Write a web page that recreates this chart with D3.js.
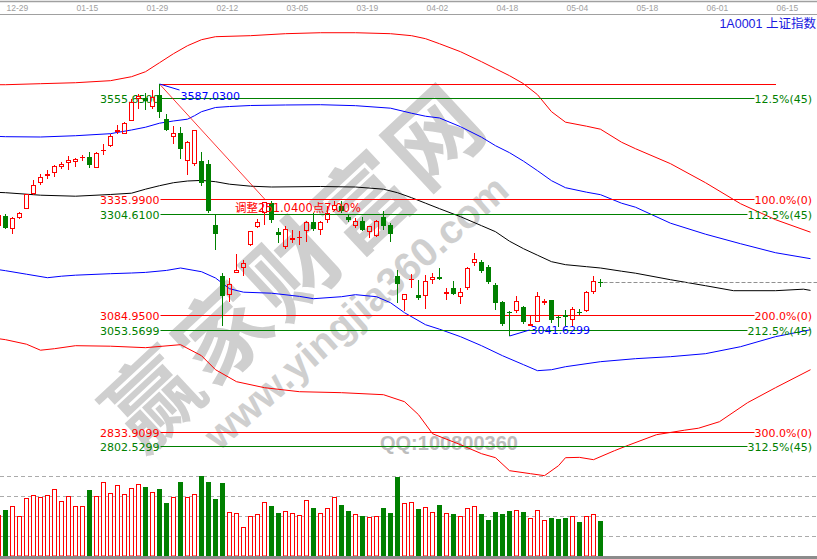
<!DOCTYPE html>
<html><head><meta charset="utf-8">
<script src="https://cdn.jsdelivr.net/npm/d3@7"></script>
<style>body{margin:0;background:#fff;overflow:hidden}svg{display:block}</style>
</head><body>
<svg id="chart" width="817" height="559"></svg>
<script>
// ---------- DATA ----------
const firstBar = -1; // index of first (partially visible) candle
const openP  = [3278.9,3302.0,3273.2,3297.0,3316.5,3349.0,3372.8,3387.1,3394.4,3406.5,3416.1,3418.2,3426.9,3429.1,3405.2,3442.0,3452.9,3482.3,3478.8,3507.0,3555.2,3556.7,3537.3,3563.9,3511.9,3472.3,3480.1,3421.0,3413.9,3419.5,3414.6,3282.5,3172.2,3131.1,3178.0,3188.8,3237.7,3277.6,3307.9,3329.5,3265.9,3234.3,3249.4,3252.9,3268.9,3289.0,3271.7,3293.4,3315.0,3323.7,3299.2,3278.9,3291.2,3265.9,3257.2,3299.2,3281.9,3172.2,3119.6,3164.2,3131.1,3128.9,3162.9,3170.0,3133.2,3145.6,3126.1,3144.7,3199.7,3202.5,3191.7,3152.7,3114.4,3093.6,3094.9,3104.4,3064.0,3072.6,3113.1,3120.2,3081.9,3086.3,3077.0,3092.8,3094.9,3136.0,3158.5];
const highP  = [3308.5,3305.7,3299.2,3309.2,3349.6,3379.9,3392.9,3401.6,3412.4,3418.2,3431.2,3426.9,3433.4,3440.5,3439.4,3457.2,3479.5,3498.3,3505.4,3555.2,3565.4,3567.6,3574.7,3587.03,3522.8,3495.3,3494.6,3464.3,3488.1,3439.0,3423.2,3305.7,3178.0,3167.2,3219.8,3206.8,3268.5,3295.5,3332.3,3333.0,3275.4,3280.4,3270.2,3268.0,3291.2,3307.9,3290.1,3322.1,3334.5,3333.0,3304.2,3297.0,3299.2,3280.4,3293.4,3312.9,3286.2,3185.2,3133.2,3175.9,3163.5,3174.3,3178.0,3188.8,3145.6,3159.8,3145.6,3190.1,3221.3,3205.3,3196.0,3156.4,3116.6,3094.9,3127.4,3105.7,3084.1,3136.0,3121.7,3120.2,3084.1,3098.6,3104.4,3100.1,3138.2,3170.7,3165.0];
const lowP   = [3276.0,3273.2,3263.1,3294.9,3316.1,3347.5,3368.5,3381.4,3384.9,3403.1,3400.1,3407.4,3420.4,3405.2,3404.8,3433.4,3451.3,3478.8,3478.4,3506.5,3532.9,3529.9,3532.9,3513.5,3484.5,3457.2,3424.7,3389.2,3410.2,3365.4,3307.9,3228.4,3062.5,3114.4,3177.6,3172.2,3235.6,3275.4,3282.5,3286.2,3242.9,3230.0,3242.9,3239.3,3245.1,3268.0,3260.3,3286.2,3312.9,3307.9,3287.5,3274.5,3268.0,3253.8,3255.9,3271.7,3244.2,3113.1,3096.4,3145.6,3118.7,3100.1,3154.2,3162.0,3118.7,3130.4,3110.9,3141.9,3192.3,3178.0,3154.9,3097.1,3064.0,3041.63,3091.5,3068.3,3064.0,3071.1,3109.4,3069.8,3061.2,3064.0,3064.0,3087.8,3092.8,3133.2,3147.7];
const closeP = [3304.2,3275.4,3297.0,3307.9,3349.0,3368.5,3385.8,3392.3,3409.6,3413.9,3422.6,3424.7,3429.1,3411.7,3437.7,3444.2,3474.5,3487.5,3502.6,3548.7,3561.1,3549.4,3558.9,3525.6,3488.1,3481.0,3447.0,3462.2,3487.5,3372.8,3311.3,3263.1,3128.9,3154.2,3184.5,3199.7,3268.0,3288.4,3330.8,3293.4,3260.3,3273.2,3253.8,3255.9,3289.0,3273.2,3289.0,3307.9,3325.8,3311.3,3291.8,3291.2,3270.2,3280.4,3291.2,3280.4,3263.1,3154.2,3133.2,3165.7,3123.0,3160.7,3169.4,3165.0,3137.5,3131.7,3136.9,3188.8,3208.3,3181.5,3159.2,3113.1,3066.8,3092.1,3118.1,3071.1,3066.8,3127.4,3118.1,3077.0,3080.6,3082.8,3099.2,3091.5,3136.9,3160.7,3157.0];
const volume = [205,230,248,198,288,303,293,303,333,273,298,248,248,330,298,368,313,353,308,338,358,345,318,335,265,293,370,293,308,400,370,285,365,218,213,143,198,208,268,250,213,225,213,203,278,240,213,238,293,255,225,208,200,193,198,240,215,395,263,268,235,243,218,255,213,208,198,238,248,208,180,220,210,225,230,220,188,230,180,190,185,190,198,170,198,208,175];

// Bollinger-style envelopes (bar index -> value)
const upperRedIdx = [-1,0,5,10,15,18,20,22,24,26,28,30,35,40,45,50,55,58,60,62,65,68,70,72,74,76,78,80,83,85,88,90,95,100,105,110,115];
const upperRedVal = [3585.5,3585.5,3587.7,3589.8,3594.2,3602.8,3613.6,3633.1,3652.6,3669.9,3682.9,3689.4,3691.6,3695.9,3698.0,3698.0,3695.9,3691.6,3685.1,3674.2,3656.9,3635.3,3620.1,3605.0,3587.7,3563.9,3527.1,3504.4,3495.7,3489.2,3461.1,3447.0,3414.6,3373.4,3328.0,3293.4,3266.3];
const upperBlueIdx = [-1,0,5,10,15,16,18,20,22,24,26,27,28,30,32,35,40,45,50,55,58,60,62,65,68,70,72,74,76,78,80,83,85,88,90,95,100,105,110,115];
const upperBlueVal = [3473.6,3473.0,3472.3,3475.1,3479.5,3482.3,3487.5,3493.5,3502.2,3507.0,3510.9,3518.4,3527.1,3536.2,3538.3,3540.5,3541.6,3542.2,3540.1,3534.7,3523.8,3517.3,3513.5,3494.6,3471.9,3453.5,3438.4,3420.0,3399.4,3377.8,3362.6,3352.9,3347.5,3329.1,3320.4,3285.8,3262.0,3241.4,3221.9,3209.0];
const midIdx = [-1,0,5,10,15,18,20,22,24,26,28,30,32,35,38,45,50,54,56,58,60,62,65,68,70,72,74,76,78,80,83,85,88,90,95,100,104,110,114,115];
const midVal = [3352.4,3351.8,3346.4,3344.2,3347.9,3350.7,3359.4,3366.9,3373.4,3377.1,3378.4,3375.6,3370.2,3365.9,3364.1,3365.2,3364.1,3359.4,3351.8,3341.0,3329.1,3317.2,3299.9,3280.4,3267.4,3246.8,3230.6,3216.5,3202.5,3196.0,3191.7,3188.8,3181.9,3177.6,3163.5,3150.5,3139.7,3139.7,3143.0,3140.4];
const lowerBlueIdx = [-1,0,3,6,8,10,15,18,20,23,25,28,30,32,34,38,42,44,48,50,53,55,57,60,62,65,68,71,74,76,78,80,85,90,95,100,105,110,115];
const lowerBlueVal = [3185.2,3183.0,3175.4,3167.8,3171.1,3173.3,3176.5,3178.0,3179.3,3183.6,3188.8,3180.8,3167.2,3144.0,3136.5,3134.3,3127.4,3122.4,3126.7,3131.1,3126.7,3113.7,3092.1,3066.1,3056.4,3040.2,3020.7,2999.0,2979.6,2966.6,2968.7,2975.2,2986.1,2992.6,2996.9,3003.4,3018.5,3040.2,3055.3];
const lowerRedIdx = [-1,0,3,5,7,10,15,20,25,28,30,33,37,42,48,54,57,59,61,65,68,70,72,75,77,79,80,82,84,87,89,93,97,99,102,106,110,115];
const lowerRedVal = [3035.8,3033.7,3023.9,3010.9,3014.2,3020.7,3019.6,3016.4,3022.9,2999.0,2968.7,2942.8,2929.8,2921.1,2919.0,2914.6,2899.5,2871.4,2830.2,2806.4,2787.0,2778.3,2750.2,2743.7,2739.4,2761.0,2778.3,2779.0,2774.0,2793.5,2805.4,2828.1,2837.8,2842.1,2856.2,2897.3,2929.8,2968.7];

// Fibonacci-style level lines
const redLevels   = [3335.99, 3084.95, 2833.9099];
const redLabels   = ["3335.9900","3084.9500","2833.9099"];
const redPct      = ["100.0%(0)","200.0%(0)","300.0%(0)"];
const greenLevels = [3555.65, 3304.61, 3053.5699, 2802.5299];
const greenLabels = ["3555.6500","3304.6100","3053.5699","2802.5299"];
const greenPct    = ["12.5%(45)","112.5%(45)","212.5%(45)","312.5%(45)"];
const highValue = 3587.03, highBar = 22, lowValue = 3041.6299, lowBar = 72;
const dateLabels = ["12-29","01-15","01-29","02-12","03-05","03-19","04-02","04-18","05-04","05-18","06-01","06-15"];
const dateBars   = [0,10,20,30,40,50,60,70,80,90,100,110];
const volTicks = [100,200,300,400];

// ---------- SCALES ----------
const svg = d3.select("#chart");
const W = 817;
const x = d3.scaleLinear().domain([0,1]).range([5.5,12.5]);
const y = d3.scaleLinear().domain([2833.9099, 3587.03]).range([432, 84]);
const yv = d3.scaleLinear().domain([0,400]).range([556,476]);
const RED = "#ff0000", GREEN = "#008000", BLUE = "#0000ff";
const crisp = v => Math.floor(v) + 0.5;

// ---------- WATERMARK ----------
const wm = svg.append("g").attr("fill","#cfcfcf").attr("font-weight","bold");
wm.append("text").attr("transform","translate(290,262) rotate(-43)")
  .attr("text-anchor","middle").attr("dominant-baseline","central")
  .attr("font-family","'Noto Sans CJK SC'").attr("font-size",92).attr("letter-spacing",4)
  .text("赢家财富网");
wm.append("text").attr("transform","translate(356,312) rotate(-41.5)")
  .attr("text-anchor","middle").attr("dominant-baseline","central")
  .attr("font-family","'Liberation Sans', Arial").attr("font-size",40)
  .text("www.yingjia360.com");
svg.append("text").attr("x",380).attr("y",450).attr("fill","#bdbdbd").attr("font-weight","bold")
  .attr("font-family","'Liberation Sans', Arial").attr("font-size",20).text("QQ:100800360");

// ---------- TOP AXIS ----------
svg.append("line").attr("x1",0).attr("x2",W).attr("y1",1.5).attr("y2",1.5).attr("stroke","#a0a0a0").attr("stroke-width",1.5);
svg.append("line").attr("x1",0).attr("x2",W).attr("y1",14.5).attr("y2",14.5).attr("stroke","#a0a0a0");
svg.append("g").selectAll("text").data(dateLabels).join("text")
  .attr("x",(d,i)=>x(dateBars[i])+1).attr("y",11)
  .attr("fill","#a0a0a0").attr("font-family","'Liberation Sans', Arial").attr("font-size",8.5)
  .text(d=>d);
const title = svg.append("text").attr("x",816).attr("y",27.5).attr("text-anchor","end")
  .attr("fill","#1818e0").attr("font-size",12.5);
title.append("tspan").attr("font-family","'Liberation Sans', Arial").text("1A0001  ");
title.append("tspan").attr("font-family","'Noto Sans CJK SC'").text("上证指数");

// ---------- BANDS ----------
function band(idx, val, color){
  const pts = idx.map((k,i)=>[x(k), y(val[i])]);
  svg.append("path").attr("d", d3.line()(pts)).attr("fill","none").attr("stroke",color).attr("stroke-width",1);
}
band(upperRedIdx, upperRedVal, RED);
band(upperBlueIdx, upperBlueVal, BLUE);
band(midIdx, midVal, "#000");
band(lowerBlueIdx, lowerBlueVal, BLUE);
band(lowerRedIdx, lowerRedVal, RED);

// ---------- LEVEL LINES ----------
const lineStart = x(highBar) + 1;
const fontNum = "'DejaVu Sans', Verdana, sans-serif";
svg.append("line").attr("x1",lineStart).attr("x2",776).attr("y1",crisp(y(highValue))).attr("y2",crisp(y(highValue))).attr("stroke",RED);
function level(v, lab, pct, color){
  const yy = crisp(y(v));
  const t = svg.append("text").attr("x",812).attr("y",yy+4).attr("text-anchor","end")
    .attr("fill",color).attr("font-family",fontNum).attr("font-size",11).text(pct);
  const tw = t.node().getComputedTextLength();
  svg.append("line").attr("x1",lineStart).attr("x2",812-tw).attr("y1",yy).attr("y2",yy).attr("stroke",color);
  svg.append("text").attr("x",lineStart-1).attr("y",yy+4).attr("text-anchor","end")
    .attr("fill",color).attr("font-family",fontNum).attr("font-size",11).text(lab);
}
redLevels.forEach((v,i)=>level(v, redLabels[i], redPct[i], RED));
greenLevels.forEach((v,i)=>level(v, greenLabels[i], greenPct[i], GREEN));

// diagonal measuring line and marks
const yHigh = y(highValue), yLow = y(lowValue);
svg.append("line").attr("x1",x(highBar)).attr("y1",yHigh).attr("x2",x(37)+1).attr("y2",y(redLevels[0]))
  .attr("stroke",RED).attr("stroke-width",0.8);
svg.append("line").attr("x1",x(highBar)).attr("y1",yHigh).attr("x2",x(highBar)+20).attr("y2",yHigh+6).attr("stroke",BLUE);
svg.append("text").attr("x",x(highBar)+21).attr("y",yHigh+16).attr("fill",BLUE).attr("font-family",fontNum).attr("font-size",11).text(highValue.toFixed(4));
svg.append("line").attr("x1",x(lowBar)).attr("y1",yLow).attr("x2",x(lowBar)+20).attr("y2",yLow-6).attr("stroke",BLUE);
svg.append("text").attr("x",x(lowBar)+21).attr("y",yLow-2).attr("fill",BLUE).attr("font-family",fontNum).attr("font-size",11).text(lowValue.toFixed(4));

// last close dashed extension
const lastC = closeP[closeP.length-1];
svg.append("line").attr("x1",x(firstBar+closeP.length-1)+3).attr("x2",W).attr("y1",crisp(y(lastC))).attr("y2",crisp(y(lastC)))
  .attr("stroke","#909090").attr("stroke-dasharray","4,2");

// ---------- CANDLES ----------
const cg = svg.append("g");
openP.forEach((o,i)=>{
  const k = firstBar + i, cx = x(k);
  const h = highP[i], l = lowP[i], c = closeP[i];
  const up = c >= o;
  const col = up ? RED : GREEN;
  const top = Math.round(y(Math.max(o,c))), bot = Math.round(y(Math.min(o,c)));
  const yh = Math.round(y(h)), yl = Math.round(y(l));
  if (up) {
    if (yh < top) cg.append("line").attr("x1",cx).attr("x2",cx).attr("y1",yh).attr("y2",top).attr("stroke",col);
    if (yl > bot) cg.append("line").attr("x1",cx).attr("x2",cx).attr("y1",bot).attr("y2",yl).attr("stroke",col);
    if (bot - top >= 2) {
      cg.append("rect").attr("x",cx-2).attr("y",top+0.5).attr("width",4).attr("height",bot-top-1)
        .attr("fill","none").attr("stroke",col);
    } else {
      cg.append("line").attr("x1",cx-2.5).attr("x2",cx+2.5).attr("y1",top+0.5).attr("y2",top+0.5).attr("stroke",col);
    }
  } else {
    cg.append("line").attr("x1",cx).attr("x2",cx).attr("y1",yh).attr("y2",yl).attr("stroke",col);
    cg.append("rect").attr("x",cx-2.5).attr("y",top).attr("width",5).attr("height",Math.max(bot-top,1)).attr("fill",col);
  }
});

// annotation text
svg.append("text").attr("x",235).attr("y",212).attr("fill",RED)
  .attr("font-family","'DejaVu Sans', 'Noto Sans CJK SC'").attr("font-size",11.5)
  .text("调整251.0400点7.00%");

// ---------- VOLUME ----------
svg.append("g").selectAll("line").data(volTicks).join("line")
  .attr("x1",0).attr("x2",W).attr("y1",d=>crisp(yv(d))).attr("y2",d=>crisp(yv(d)))
  .attr("stroke","#ababab").attr("stroke-dasharray","4,3");
const vg = svg.append("g");
volume.forEach((v,i)=>{
  const k = firstBar + i, cx = x(k);
  const up = closeP[i] >= openP[i];
  const t = Math.round(yv(v));
  if (up) vg.append("rect").attr("x",cx-2).attr("y",t+0.5).attr("width",4).attr("height",556-t-0.5).attr("fill","none").attr("stroke",RED);
  else vg.append("rect").attr("x",cx-2.5).attr("y",t).attr("width",5).attr("height",556-t).attr("fill",GREEN);
});
svg.append("rect").attr("x",0).attr("y",556).attr("width",W).attr("height",3).attr("fill","#8c8c8c");
</script>
</body></html>
